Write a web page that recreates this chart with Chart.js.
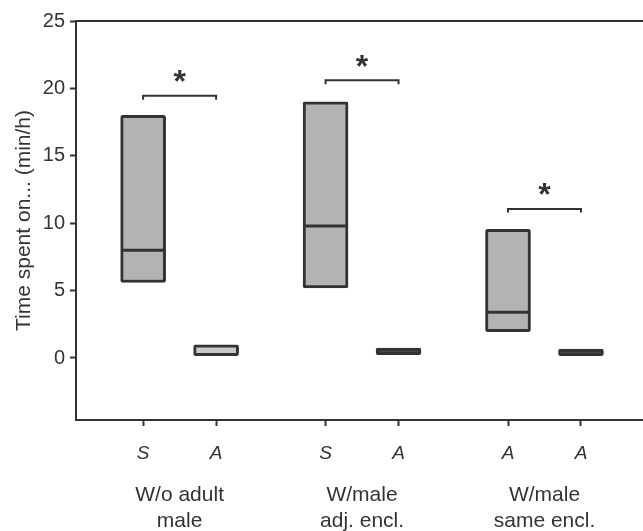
<!DOCTYPE html>
<html>
<head>
<meta charset="utf-8">
<script src="https://cdn.jsdelivr.net/npm/chart.js@4/dist/chart.umd.min.js"></script>
<style>
  html, body { margin: 0; padding: 0; background: #fff; overflow: hidden; }
  #wrap { width: 643px; height: 531px; }
</style>
</head>
<body>
<div id="wrap"><canvas id="chart" width="643" height="531"></canvas></div>
<script>
// positions of the six boxes on the x axis (three pairs)
const xPos = [1, 2, 3.5, 4.5, 6, 7];
const tickLabels = ['S', 'A', 'S', 'A', 'A', 'A'];
const groupPos = [1.5, 4, 6.5];
const groupLabels = [['W/o adult', 'male'], ['W/male', 'adj. encl.'], ['W/male', 'same encl.']];
// box ranges (min/h) and medians
const lows = [5.6, 0.17, 5.2, 0.24, 1.95, 0.17];
const highs = [18.0, 0.98, 19.0, 0.74, 9.55, 0.67];
const medX = [1, 3.5, 6];
const medians = [8.0, 9.8, 3.4];
// significance brackets: [left x, right x, bar y, end y]
const brackets = [[1, 2, 19.45, 19.15], [3.5, 4.5, 20.6, 20.3], [6, 7, 11.05, 10.8]];
const stars = [[1.5, 20.8], [4, 21.95], [6.5, 12.45]];
const yTicks = [0, 5, 10, 15, 20, 25];

const ink = '#333333';
const font = "'Liberation Sans', Arial, sans-serif";
const boxFill = ['#b3b3b3', '#c9c9c9', '#b3b3b3', '#4a4a4a', '#b3b3b3', '#4a4a4a'];
const xMin = 0.08, xMax = 7.85;

const bracketSets = brackets.map(b => ({
  type: 'line',
  data: [{x: b[0], y: b[3]}, {x: b[0], y: b[2]}, {x: b[1], y: b[2]}, {x: b[1], y: b[3]}],
  borderColor: ink,
  borderWidth: 2,
  pointRadius: 0,
  fill: false,
  tension: 0,
  order: 1
}));

const starPlugin = {
  id: 'stars',
  afterDatasetsDraw(chart) {
    const {ctx, scales} = chart;
    ctx.save();
    ctx.fillStyle = ink;
    ctx.font = 'bold 32px ' + font;
    ctx.textAlign = 'center';
    ctx.textBaseline = 'middle';
    stars.forEach(s => {
      ctx.fillText('*', scales.x.getPixelForValue(s[0]), scales.y.getPixelForValue(s[1]) + 6);
    });
    ctx.restore();
  }
};

new Chart(document.getElementById('chart'), {
  type: 'bar',
  data: {
    datasets: [
      {
        type: 'bar',
        data: xPos.map((x, i) => ({x: x, y: [lows[i], highs[i]]})),
        backgroundColor: boxFill,
        borderColor: ink,
        borderWidth: 3,
        borderSkipped: false,
        borderRadius: 2,
        barThickness: 45,
        order: 3
      },
      {
        type: 'scatter',
        data: medX.map((x, i) => ({x: x, y: medians[i]})),
        pointStyle: 'line',
        pointRadius: 22,
        borderColor: ink,
        borderWidth: 3,
        order: 1
      },
      ...bracketSets
    ]
  },
  options: {
    responsive: false,
    animation: false,
    layout: { autoPadding: false, padding: { top: 21, right: 0, left: 0, bottom: 0 } },
    plugins: { legend: { display: false }, tooltip: { enabled: false } },
    scales: {
      x: {
        type: 'linear',
        position: 'bottom',
        offset: false,
        min: xMin,
        max: xMax,
        afterBuildTicks: s => { s.ticks = xPos.map(v => ({value: v})); },
        afterFit: s => { s.height = 45; },
        ticks: {
          callback: (v, i) => tickLabels[i],
          color: ink,
          font: { family: font, size: 19, style: 'italic' },
          padding: 16,
          maxRotation: 0
        },
        grid: {
          offset: false,
          drawOnChartArea: false,
          tickLength: 6,
          tickWidth: 2,
          tickColor: c => (c.tick && xPos.includes(c.tick.value)) ? ink : 'rgba(0,0,0,0)'
        },
        border: { color: ink, width: 2 }
      },
      xg: {
        type: 'linear',
        position: 'bottom',
        offset: false,
        min: xMin,
        max: xMax,
        afterBuildTicks: s => { s.ticks = groupPos.map(v => ({value: v})); },
        afterFit: s => { s.height = 66; },
        ticks: {
          callback: (v, i) => groupLabels[i],
          color: ink,
          font: { family: font, size: 21, lineHeight: 1.24 },
          padding: 17,
          maxRotation: 0
        },
        grid: { display: false, drawTicks: false, tickLength: 0 },
        border: { display: false }
      },
      xTop: {
        type: 'linear',
        position: 'top',
        offset: false,
        min: xMin,
        max: xMax,
        afterFit: s => { s.height = 0; },
        ticks: { display: false },
        grid: { drawOnChartArea: false, drawTicks: false },
        border: { color: ink, width: 2 }
      },
      y: {
        min: -4.6,
        max: 25,
        afterBuildTicks: s => { s.ticks = yTicks.map(v => ({value: v})); },
        afterFit: s => { s.width = 76; s.paddingTop = 0; s.paddingBottom = 0; },
        ticks: { color: ink, font: { family: font, size: 20 }, padding: 5 },
        grid: { drawOnChartArea: false, tickLength: 6, tickColor: ink, tickWidth: 2 },
        border: { color: ink, width: 2 },
        title: {
          display: true,
          text: 'Time spent on... (min/h)',
          color: ink,
          font: { family: font, size: 21 },
          padding: { top: 12, bottom: 0 }
        }
      }
    }
  },
  plugins: [starPlugin]
});
</script>
</body>
</html>
